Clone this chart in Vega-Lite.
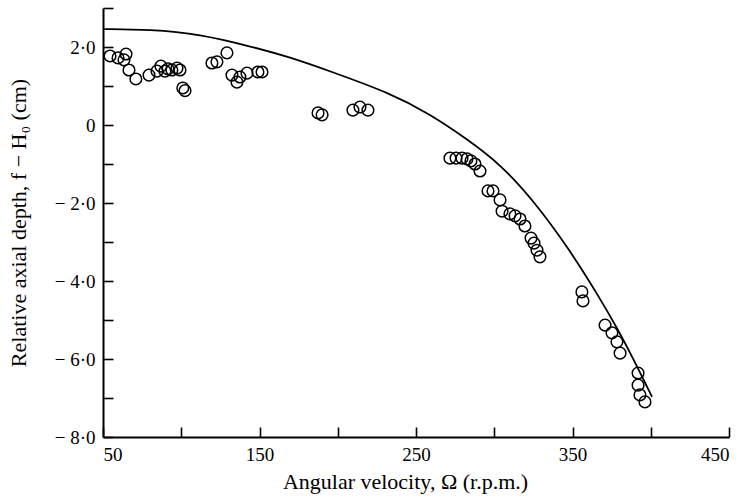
{
  "$schema": "https://vega.github.io/schema/vega-lite/v6.json",
  "width": 626,
  "height": 429,
  "autosize": "none",
  "padding": {"left": 103, "top": 8, "right": 17, "bottom": 67},
  "background": "white",
  "config": {
    "view": {"stroke": null},
    "font": "Liberation Serif",
    "axis": {
      "grid": false,
      "domainColor": "black",
      "domainWidth": 2,
      "tickColor": "black",
      "tickWidth": 1.6,
      "tickSize": -10,
      "labelColor": "black",
      "labelFont": "Liberation Serif",
      "labelFontSize": 19,
      "titleColor": "black",
      "titleFont": "Liberation Serif",
      "titleFontSize": 22,
      "titleFontWeight": "normal"
    }
  },
  "datasets": {
    "measured": [
      {"omega": 54.5, "depth": 1.77}, {"omega": 59.6, "depth": 1.72}, {"omega": 63.4, "depth": 1.67},
      {"omega": 64.7, "depth": 1.82}, {"omega": 66.6, "depth": 1.41}, {"omega": 71.0, "depth": 1.18},
      {"omega": 79.4, "depth": 1.28}, {"omega": 84.5, "depth": 1.38}, {"omega": 87.0, "depth": 1.51},
      {"omega": 89.6, "depth": 1.38}, {"omega": 91.5, "depth": 1.44}, {"omega": 94.0, "depth": 1.41},
      {"omega": 97.3, "depth": 1.46}, {"omega": 99.2, "depth": 1.41}, {"omega": 101.0, "depth": 0.95},
      {"omega": 102.4, "depth": 0.88}, {"omega": 119.6, "depth": 1.59}, {"omega": 122.8, "depth": 1.62},
      {"omega": 129.2, "depth": 1.85}, {"omega": 132.4, "depth": 1.28}, {"omega": 135.6, "depth": 1.10},
      {"omega": 137.5, "depth": 1.23}, {"omega": 142.0, "depth": 1.33}, {"omega": 149.0, "depth": 1.36},
      {"omega": 151.6, "depth": 1.36}, {"omega": 187.4, "depth": 0.31}, {"omega": 190.0, "depth": 0.26},
      {"omega": 209.7, "depth": 0.38}, {"omega": 214.2, "depth": 0.46}, {"omega": 219.3, "depth": 0.38},
      {"omega": 271.7, "depth": -0.85}, {"omega": 275.6, "depth": -0.85}, {"omega": 279.4, "depth": -0.85},
      {"omega": 282.6, "depth": -0.87}, {"omega": 285.1, "depth": -0.92}, {"omega": 287.7, "depth": -1.0},
      {"omega": 290.9, "depth": -1.18}, {"omega": 296.0, "depth": -1.69}, {"omega": 299.2, "depth": -1.69},
      {"omega": 303.7, "depth": -1.92}, {"omega": 305.0, "depth": -2.21}, {"omega": 310.0, "depth": -2.28},
      {"omega": 313.3, "depth": -2.33}, {"omega": 316.5, "depth": -2.41}, {"omega": 319.6, "depth": -2.59},
      {"omega": 323.5, "depth": -2.90}, {"omega": 325.4, "depth": -3.03}, {"omega": 327.3, "depth": -3.21},
      {"omega": 329.2, "depth": -3.38}, {"omega": 356.0, "depth": -4.28}, {"omega": 356.7, "depth": -4.51},
      {"omega": 370.8, "depth": -5.13}, {"omega": 375.2, "depth": -5.33}, {"omega": 378.4, "depth": -5.56},
      {"omega": 380.4, "depth": -5.85}, {"omega": 391.9, "depth": -6.36}, {"omega": 391.9, "depth": -6.67},
      {"omega": 393.1, "depth": -6.92}, {"omega": 396.3, "depth": -7.10}
    ],
    "theory": [
      {"omega": 50, "depth": 2.46}, {"omega": 80, "depth": 2.45}, {"omega": 112, "depth": 2.33},
      {"omega": 143.9, "depth": 2.02}, {"omega": 169.5, "depth": 1.74}, {"omega": 195, "depth": 1.38},
      {"omega": 233.4, "depth": 0.82}, {"omega": 258.9, "depth": 0.28}, {"omega": 282.6, "depth": -0.36},
      {"omega": 303.7, "depth": -1.0}, {"omega": 324.8, "depth": -1.92}, {"omega": 348.4, "depth": -3.21},
      {"omega": 367.6, "depth": -4.45}, {"omega": 378.4, "depth": -5.2}, {"omega": 388.7, "depth": -5.98},
      {"omega": 400.8, "depth": -6.97}
    ]
  },
  "encoding": {
    "x": {
      "field": "omega",
      "type": "quantitative",
      "scale": {"domain": [50, 450], "nice": false, "zero": false},
      "axis": {
        "title": "Angular velocity, Ω (r.p.m.)",
        "values": [50, 100, 150, 200, 250, 300, 350, 400, 450],
        "labelExpr": "(datum.value - 50) % 100 == 0 ? datum.value : ''",
        "labelPadding": 18,
        "titlePadding": 7,
        "titleX": 302,
        "titleAlign": "center"
      }
    },
    "y": {
      "field": "depth",
      "type": "quantitative",
      "scale": {"domain": [-8, 3], "nice": false, "zero": false},
      "axis": {
        "title": "Relative axial depth, f − H₀ (cm)",
        "values": [-8, -7, -6, -5, -4, -3, -2, -1, 0, 1, 2, 3],
        "labelExpr": "datum.value == 0 ? '0' : (datum.value % 2 != 0 ? '' : (datum.value < 0 ? '− ' : '') + abs(datum.value) + '·0')",
        "labelPadding": 18,
        "titlePadding": 24
      }
    }
  },
  "layer": [
    {
      "data": {"name": "theory"},
      "mark": {"type": "line", "color": "black", "strokeWidth": 1.8, "interpolate": "basis"}
    },
    {
      "data": {"name": "measured"},
      "mark": {"type": "point", "shape": "circle", "filled": false, "color": "black", "size": 135, "strokeWidth": 1.5, "opacity": 1}
    }
  ]
}
